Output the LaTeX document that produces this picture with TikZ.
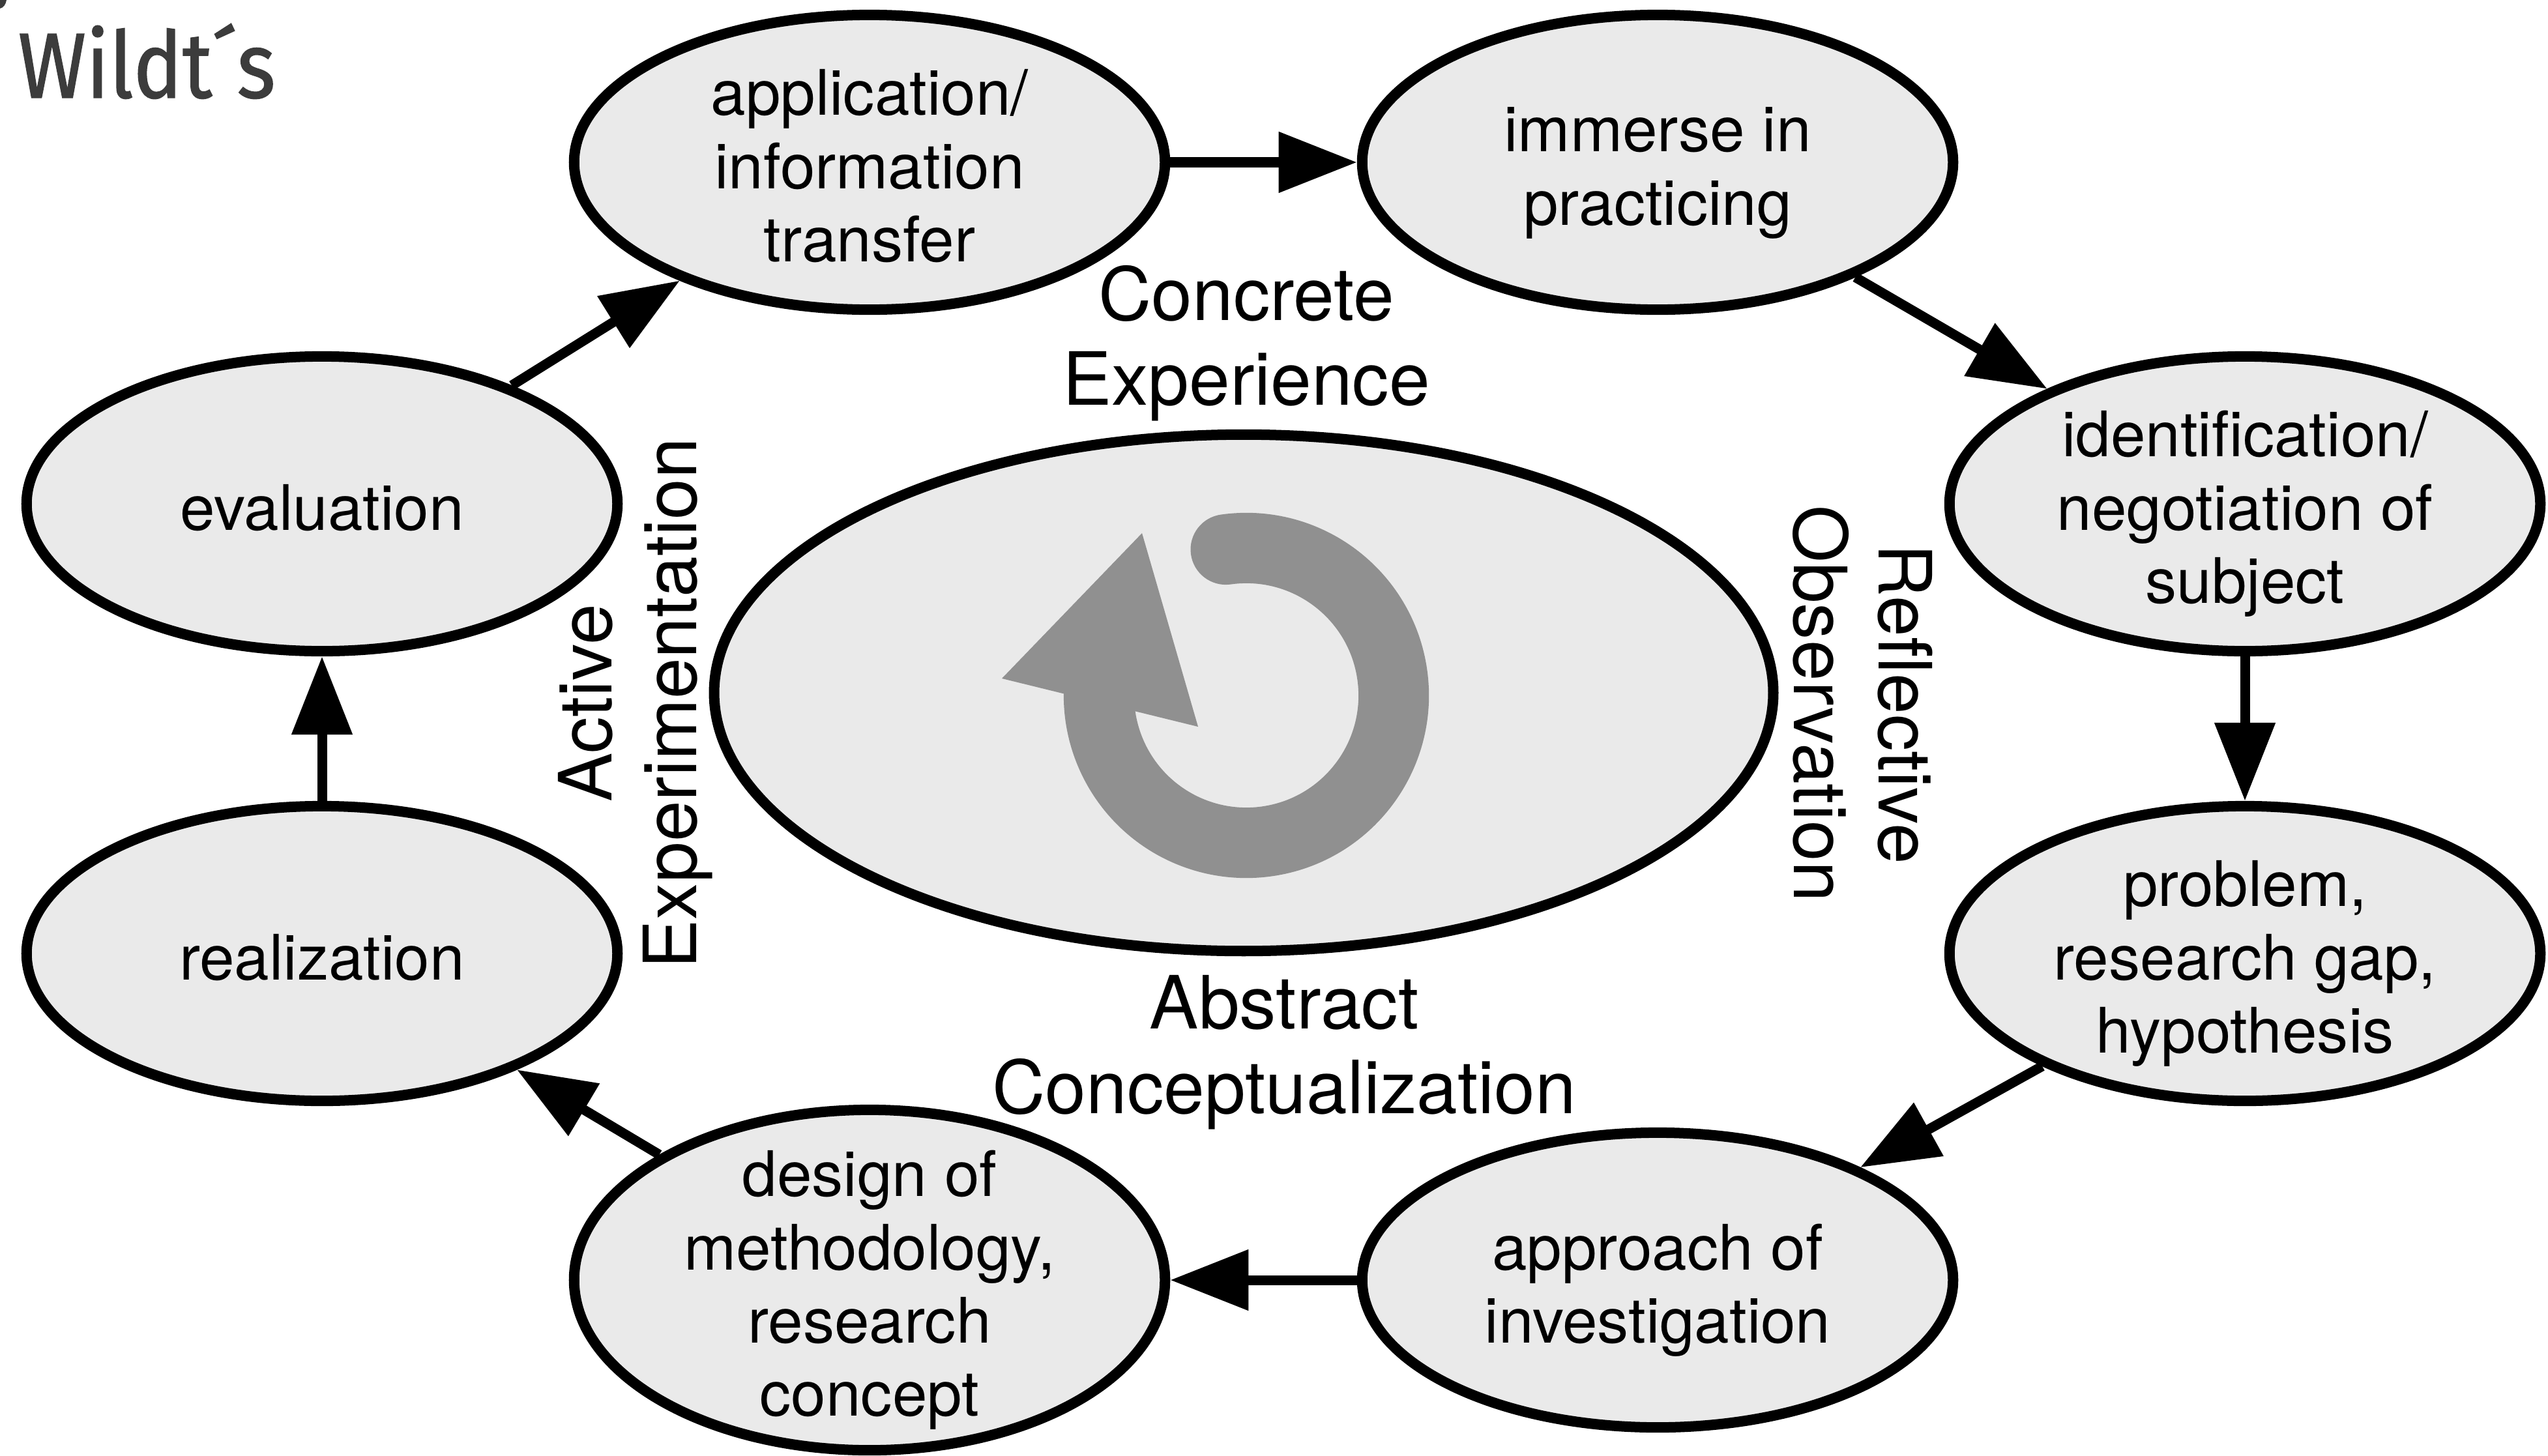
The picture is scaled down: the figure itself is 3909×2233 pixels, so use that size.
\documentclass[tikz,border=0pt]{standalone}
\usepackage{fontspec}
\setmainfont{TeX Gyre Heros}
\newfontfamily\titlefont[FakeStretch=0.89,FakeBold=1]{Fira Sans}
\usetikzlibrary{shapes.geometric,arrows.meta}
\definecolor{nodefill}{HTML}{EAEAEA}
\definecolor{ringgray}{HTML}{909090}
\definecolor{titlegray}{HTML}{3C3C3C}
\newcommand{\blobtop}{\rule{0pt}{1.1cm}}
\tikzset{
  blob/.style={ellipse,draw=black,fill=nodefill,line width=0.16cm,inner xsep=0pt,inner ysep=-1.6cm,
    minimum width=9.06cm,minimum height=4.52cm,align=center,
    font=\fontsize{27.37}{31.87}\selectfont,
    execute at end node={\rule[-0.3cm]{0pt}{0.3cm}}},
  bigblob/.style={ellipse,draw=black,fill=nodefill,line width=0.16cm,inner sep=0pt,
    minimum width=16.24cm,minimum height=7.92cm},
  flow/.style={draw=black,line width=0.15cm,-{Triangle[length=1.2cm,width=0.9cm]}},
  biglabel/.style={align=center,inner sep=0pt,font=\fontsize{32.05}{37}\selectfont}
}
\begin{document}
\begin{tikzpicture}[x=0.01cm,y=-0.01cm]
\useasboundingbox (0,0) rectangle (3909,2233);
% nodes
\node[blob] (app) at (1334,249) {\blobtop application/\\information\\transfer};
\node[blob] (imm) at (2543,249) {\blobtop immerse in\\practicing};
\node[blob] (idn) at (3444,773) {\blobtop identification/\\negotiation of\\subject};
\node[blob] (prb) at (3444,1463) {\blobtop problem,\\research gap,\\hypothesis};
\node[blob] (apr) at (2543,1964) {\blobtop approach of\\investigation};
\node[blob,minimum height=5.22cm] (dsg) at (1334,1964) {\blobtop design of\\methodology,\\research\\concept};
\node[blob] (rea) at (494,1463) {\blobtop realization};
\node[blob] (eva) at (494,773) {\blobtop evaluation};
\node[bigblob] (mid) at (1908,1063) {};
% ring arrow
\coordinate (ringc) at (1912,1067);
\draw[ringgray,line width=1.08cm,line cap=round] ([shift={(98:2.26cm)}]ringc) arc[start angle=98,end angle=-180,radius=2.26cm];
\fill[ringgray] (1537,1041) -- (1752,818) -- (1838,1115) -- cycle;
% connectors
\draw[flow] (app) -- (imm);
\draw[flow] (imm) -- (idn);
\draw[flow] (idn) -- (prb);
\draw[flow] (prb) -- (apr);
\draw[flow] (apr) -- (dsg);
\draw[flow] (dsg) -- (rea);
\draw[flow] (rea) -- (eva);
\draw[flow] (eva) -- (app);
% labels
\node[biglabel] (ce) at (1912,527) {Concrete\\Experience};
\node[biglabel] (ac) at (1970,1615) {Abstract\\Conceptualization};
\node[biglabel,rotate=-90] (ro) at (2858,1080) {Reflective\\Observation};
\node[biglabel,rotate=90] (ae) at (975,1079) {Active\\Experimentation};
\node[anchor=base west,inner sep=0pt,text=titlegray,font=\titlefont\fontsize{40.4}{48}\selectfont] (ttl) at (27,150) {Wildt´s};
\fill[titlegray] (0,0) -- (10,0) .. controls (9,7) and (5,12) .. (0,13) -- cycle;
\end{tikzpicture}
\end{document}
